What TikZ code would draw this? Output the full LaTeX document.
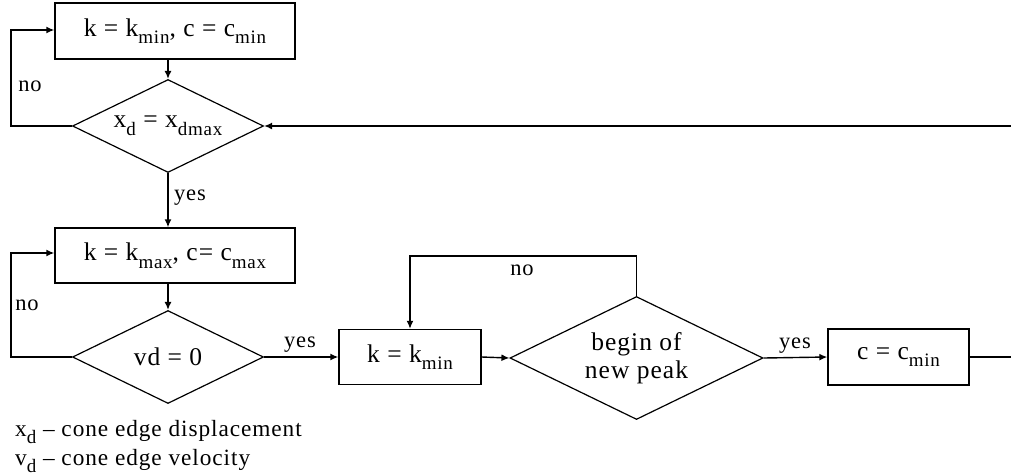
\documentclass[tikz,border=0pt]{standalone}
\usepackage{fontspec}
\setmainfont{Liberation Serif}[LetterSpace=4]
\usetikzlibrary{shapes.geometric,arrows.meta}
\newcommand{\sbs}[1]{\raisebox{-0.3em}{\fontsize{19}{19}\selectfont #1}}
\begin{document}
\begin{tikzpicture}[x=1pt,y=-1pt,
  every node/.style={font=\fontsize{25.5}{28}\selectfont, text=black},
  box/.style={draw=black, line width=1.4pt, rectangle, inner sep=0pt},
  dec/.style={draw=black, line width=1.2pt, diamond, shape aspect=2.05, inner sep=0pt, align=center},
  conn/.style={draw=black, line width=1.4pt},
  arr/.style={conn, -{Latex[length=8pt,width=7pt]}},
  lbl/.style={inner sep=0pt, font=\fontsize{22.5}{24}\selectfont}]
\useasboundingbox (0,0) rectangle (1011,475);
% nodes
\node[box, minimum width=240pt, minimum height=56pt] (b1) at (175,31) {k = k\sbs{min}, c = c\sbs{min}};
\node[dec, minimum width=191pt, minimum height=93pt] (d1) at (168,126) {x\sbs{d} = x\sbs{dmax}};
\node[box, minimum width=240pt, minimum height=55pt] (b2) at (175,255.5) {k = k\sbs{max}, c= c\sbs{max}};
\node[dec, minimum width=191pt, minimum height=93pt] (d2) at (168,357) {vd = 0};
\node[box, minimum width=142pt, minimum height=55pt] (b3) at (410,357) {k = k\sbs{min}};
\node[dec, minimum width=253pt, minimum height=123pt] (d3) at (636.5,358) {begin of\\new peak};
\node[box, minimum width=141pt, minimum height=56pt] (b4) at (898.5,357) {c = c\sbs{min}};
\coordinate (r1) at (1011,126);
\coordinate (r2) at (1011,357);
% connectors
\draw[arr] (b1.south -| d1.north) -- (d1.north);
\draw[arr] (d1.west) -- ++(-61,0) |- ([yshift=1pt]b1.west);
\draw[arr] (r1) -- (d1.east);
\draw[arr] (d1.south) -- (b2.north -| d1.south);
\draw[arr] (b2.south -| d2.north) -- (d2.north);
\draw[arr] (d2.west) -- ++(-61,0) |- ([yshift=2.5pt]b2.west);
\draw[arr] (d2.east) -- (b3.west);
\draw[arr] (b3.east) -- (d3.west);
\draw[arr] (d3.north) -- ++(0,-40) -| (b3.north);
\draw[arr] (d3.east) -- (b4.west);
\draw[conn] (b4.east) -- (r2);
% labels
\node[lbl] (n1) at (30,86) {no};
\node[lbl] (y1) at (190,198) {yes};
\node[lbl] (n2) at (27,305) {no};
\node[lbl] (y2) at (300,345) {yes};
\node[lbl] (n3) at (522,270) {no};
\node[lbl] (y3) at (795,346) {yes};
% legend
\node[anchor=base west, inner sep=0pt, font=\fontsize{23.3}{26}\selectfont] (l1) at (15,436) {x\sbs{d} -- cone edge displacement};
\node[anchor=base west, inner sep=0pt, font=\fontsize{23.3}{26}\selectfont] (l2) at (15,465) {v\sbs{d} -- cone edge velocity};
\end{tikzpicture}
\end{document}
